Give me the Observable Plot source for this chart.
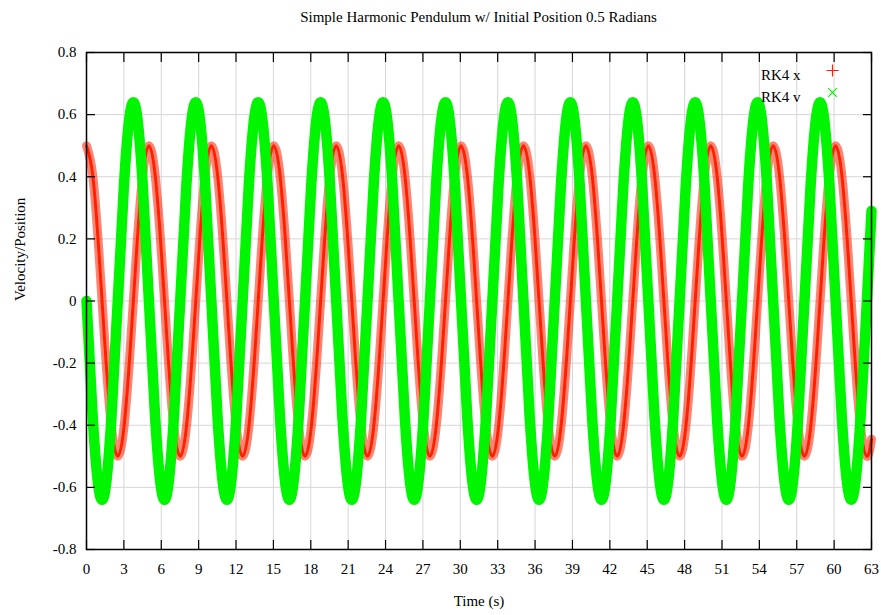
<!DOCTYPE html>
<html>
<head>
<meta charset="utf-8">
<script src="https://cdn.jsdelivr.net/npm/d3@7"></script>
<script src="https://cdn.jsdelivr.net/npm/@observablehq/plot@0.6"></script>
<style>
  body { margin: 0; background: white; }
  #title { height: 30px; line-height: 34px; padding-left: 86px; width: 785px; text-align: center;
           font-family: "Liberation Serif", serif; font-size: 15px; color: #000; }
</style>
</head>
<body>
<div id="title"></div>
<div id="chart"></div>
<script>
const titleText = "Simple Harmonic Pendulum w/ Initial Position 0.5 Radians";
const xLabel = "Time (s)";
const yLabel = "Velocity/Position";
const seriesNames = ["RK4 x", "RK4 v"];
const seriesColors = ["#ff2000", "#00f500"];
const xTicks = [0, 3, 6, 9, 12, 15, 18, 21, 24, 27, 30, 33, 36, 39, 42, 45, 48, 51, 54, 57, 60, 63];
const yTicks = [-0.8, -0.6, -0.4, -0.2, 0, 0.2, 0.4, 0.6, 0.8];

// sample times (s), read along the time axis
const time = [
  0, 0.50, 1.00, 1.50, 2.00, 2.51, 3.01, 3.51, 4.01, 4.51,
  5.01, 5.51, 6.01, 6.51, 7.01, 7.52, 8.02, 8.52, 9.02, 9.52,
  10.02, 10.52, 11.02, 11.52, 12.02, 12.53, 13.03, 13.53, 14.03, 14.53,
  15.03, 15.53, 16.03, 16.53, 17.03, 17.54, 18.04, 18.54, 19.04, 19.54,
  20.04, 20.54, 21.04, 21.54, 22.04, 22.55, 23.05, 23.55, 24.05, 24.55,
  25.05, 25.55, 26.05, 26.55, 27.05, 27.56, 28.06, 28.56, 29.06, 29.56,
  30.06, 30.56, 31.06, 31.56, 32.06, 32.57, 33.07, 33.57, 34.07, 34.57,
  35.07, 35.57, 36.07, 36.57, 37.07, 37.58, 38.08, 38.58, 39.08, 39.58,
  40.08, 40.58, 41.08, 41.58, 42.08, 42.59, 43.09, 43.59, 44.09, 44.59,
  45.09, 45.59, 46.09, 46.59, 47.09, 47.60, 48.10, 48.60, 49.10, 49.60,
  50.10, 50.60, 51.10, 51.60, 52.10, 52.61, 53.11, 53.61, 54.11, 54.61,
  55.11, 55.61, 56.11, 56.61, 57.11, 57.62, 58.12, 58.62, 59.12, 59.62,
  60.12, 60.62, 61.12, 61.62, 62.12, 62.63, 63
];
// RK4 x: angular position (rad)
const posX = [
  0.5, 0.405, 0.155, -0.155, -0.405, -0.5, -0.405, -0.155, 0.155, 0.405,
  0.5, 0.405, 0.155, -0.155, -0.405, -0.5, -0.405, -0.155, 0.155, 0.405,
  0.5, 0.405, 0.155, -0.155, -0.405, -0.5, -0.405, -0.155, 0.155, 0.405,
  0.5, 0.405, 0.155, -0.155, -0.405, -0.5, -0.405, -0.155, 0.155, 0.405,
  0.5, 0.405, 0.155, -0.155, -0.405, -0.5, -0.405, -0.155, 0.155, 0.405,
  0.5, 0.405, 0.155, -0.155, -0.405, -0.5, -0.405, -0.155, 0.155, 0.405,
  0.5, 0.405, 0.155, -0.155, -0.405, -0.5, -0.405, -0.155, 0.155, 0.405,
  0.5, 0.405, 0.155, -0.155, -0.405, -0.5, -0.405, -0.155, 0.155, 0.405,
  0.5, 0.405, 0.155, -0.155, -0.405, -0.5, -0.405, -0.155, 0.155, 0.405,
  0.5, 0.405, 0.155, -0.155, -0.405, -0.5, -0.405, -0.155, 0.155, 0.405,
  0.5, 0.405, 0.155, -0.155, -0.405, -0.5, -0.405, -0.155, 0.155, 0.405,
  0.5, 0.405, 0.155, -0.155, -0.405, -0.5, -0.405, -0.155, 0.155, 0.405,
  0.5, 0.405, 0.155, -0.155, -0.405, -0.5, -0.445
];
// RK4 v: angular velocity (rad/s)
const velV = [
  0, -0.376, -0.609, -0.609, -0.376, 0, 0.376, 0.609, 0.609, 0.376,
  0, -0.376, -0.609, -0.609, -0.376, 0, 0.376, 0.609, 0.609, 0.376,
  0, -0.376, -0.609, -0.609, -0.376, 0, 0.376, 0.609, 0.609, 0.376,
  0, -0.376, -0.609, -0.609, -0.376, 0, 0.376, 0.609, 0.609, 0.376,
  0, -0.376, -0.609, -0.609, -0.376, 0, 0.376, 0.609, 0.609, 0.376,
  0, -0.376, -0.609, -0.609, -0.376, 0, 0.376, 0.609, 0.609, 0.376,
  0, -0.376, -0.609, -0.609, -0.376, 0, 0.376, 0.609, 0.609, 0.376,
  0, -0.376, -0.609, -0.609, -0.376, 0, 0.376, 0.609, 0.609, 0.376,
  0, -0.376, -0.609, -0.609, -0.376, 0, 0.376, 0.609, 0.609, 0.376,
  0, -0.376, -0.609, -0.609, -0.376, 0, 0.376, 0.609, 0.609, 0.376,
  0, -0.376, -0.609, -0.609, -0.376, 0, 0.376, 0.609, 0.609, 0.376,
  0, -0.376, -0.609, -0.609, -0.376, 0, 0.376, 0.609, 0.609, 0.376,
  0, -0.376, -0.609, -0.609, -0.376, 0, 0.29
];

document.getElementById("title").textContent = titleText;

const xs = time.map((t, i) => ({t, y: posX[i]}));
const vs = time.map((t, i) => ({t, y: velV[i]}));
const fmt = d => d === 0 ? "0" : d.toFixed(1);

const legendMarks = seriesNames.flatMap((name, i) => [
  Plot.text([name], {frameAnchor: "top-right", dx: -71, dy: 17 + i * 22, textAnchor: "end", fill: "black"}),
  Plot.dot([name], {frameAnchor: "top-right", dx: -39, dy: 18 + i * 22, symbol: i === 0 ? "plus" : "times",
                    r: 4, stroke: seriesColors[i], strokeWidth: 1.2})
]);

const chart = Plot.plot({
  width: 881,
  height: 585,
  marginTop: 22,
  marginBottom: 66,
  marginLeft: 86,
  marginRight: 10,
  style: {fontFamily: "Liberation Serif, serif", fontSize: "15px", background: "white", color: "black"},
  x: {domain: [0, 63]},
  y: {domain: [-0.8, 0.8]},
  marks: [
    Plot.gridX(xTicks, {stroke: "#d6d6d6", strokeOpacity: 1}),
    Plot.gridY(yTicks, {stroke: "#d6d6d6", strokeOpacity: 1}),
    Plot.line(xs, {x: "t", y: "y", curve: "natural", stroke: seriesColors[0], strokeWidth: 9, strokeOpacity: 0.55}),
    Plot.line(xs, {x: "t", y: "y", curve: "natural", stroke: seriesColors[0], strokeWidth: 3}),
    Plot.line(vs, {x: "t", y: "y", curve: "natural", stroke: seriesColors[1], strokeWidth: 10.5}),
    Plot.axisX(xTicks, {anchor: "bottom", tickSize: -9, tickFormat: () => "", label: null, strokeWidth: 1.2}),
    Plot.axisX(xTicks, {anchor: "top", tickSize: -9, tickFormat: () => "", label: null, strokeWidth: 1.2}),
    Plot.axisY(yTicks, {anchor: "left", tickSize: -9, tickFormat: () => "", label: null, strokeWidth: 1.2}),
    Plot.axisY(yTicks, {anchor: "right", tickSize: -9, tickFormat: () => "", label: null, strokeWidth: 1.2}),
    Plot.axisX(xTicks, {anchor: "bottom", tickSize: 0, tickPadding: 14, tickFormat: d => String(d), label: null, fill: "black"}),
    Plot.axisY(yTicks, {anchor: "left", tickSize: 0, tickPadding: 10, tickFormat: fmt, label: null, fill: "black"}),
    Plot.frame({stroke: "black", strokeWidth: 1.5}),
    Plot.text([xLabel], {frameAnchor: "bottom", dy: 56, fill: "black"}),
    Plot.text([yLabel], {frameAnchor: "left", dx: -66, rotate: -90, fill: "black"}),
    ...legendMarks
  ]
});
document.getElementById("chart").appendChild(chart);
</script>
</body>
</html>
